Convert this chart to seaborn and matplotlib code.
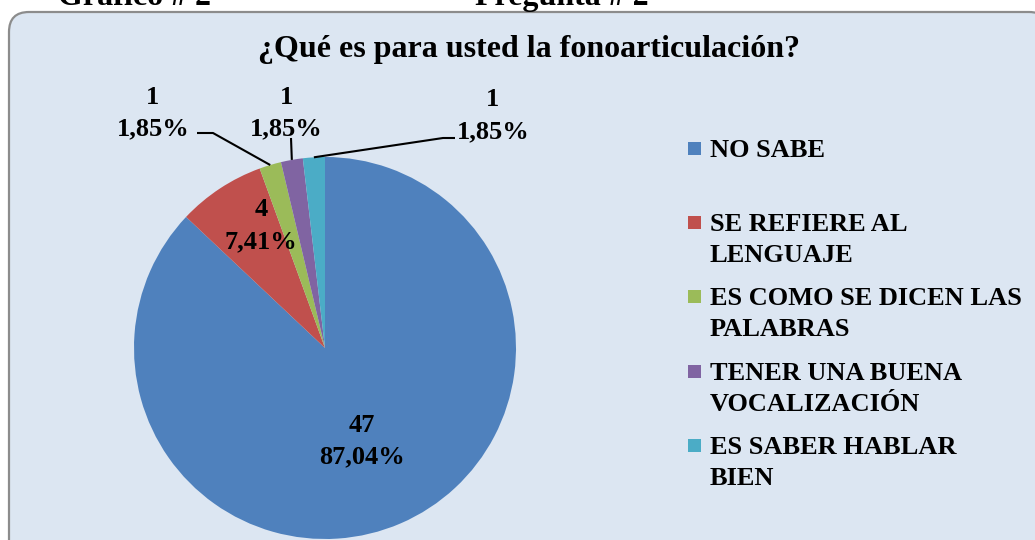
import numpy as np
import matplotlib
matplotlib.use("Agg")
import matplotlib.pyplot as plt
import seaborn as sns
from matplotlib.patches import FancyBboxPatch, Rectangle

categorias = ['NO SABE', 'SE REFIERE AL\nLENGUAJE', 'ES COMO SE DICEN LAS\nPALABRAS',
              'TENER UNA BUENA\nVOCALIZACIÓN', 'ES SABER HABLAR\nBIEN']
frecuencias = [47, 4, 1, 1, 1]
porcentajes = ['87,04%', '7,41%', '1,85%', '1,85%', '1,85%']
colores = ['#4F81BD', '#C0504D', '#9BBB59', '#8064A2', '#4BACC6']

sns.set_theme(style='white')
plt.rcParams['font.family'] = ['Liberation Serif', 'DejaVu Serif']
plt.rcParams['font.weight'] = 'bold'
plt.rcParams['text.color'] = 'black'

W, H = 1035, 540
fig = plt.figure(figsize=(W / 100, H / 100), dpi=100)
fig.patch.set_facecolor('white')

# marco redondeado (en pixeles de figura)
marco = FancyBboxPatch((9, -40), 1040, H - 12 + 40, boxstyle='round,pad=0,rounding_size=20',
                       transform=None, facecolor='#DCE6F2', edgecolor='#8C8C8C', linewidth=1.6,
                       zorder=-10)
fig.patches.append(marco)

fig.text(135 / W, (H - 5) / H, 'Gráfico # 2', ha='center', va='baseline', fontsize=23, fontweight='bold')
fig.text(562 / W, (H - 5) / H, 'Pregunta # 2', ha='center', va='baseline', fontsize=23, fontweight='bold')
fig.text(529 / W, (H - 50) / H, '¿Qué es para usted la fonoarticulación?', ha='center', va='center',
         fontsize=23, fontweight='bold')

# ejes en unidades de radio: centro (325, 348) px, radio 191 px
cx, cy, r = 325, 348, 191
ax = fig.add_axes([0, 0, 1, 1])
wedges, _ = ax.pie(frecuencias, colors=colores, startangle=90, counterclock=False, radius=1,
                   wedgeprops=dict(linewidth=0))
ax.set_aspect('auto')
ax.set_xlim(-cx / r, (W - cx) / r)
ax.set_ylim(-(H - cy) / r, cy / r)
ax.axis('off')

fs = 19
ls = 1.5
# etiquetas internas
ax.text((362 - cx) / r, (cy - 441) / r, f'{frecuencias[0]}\n{porcentajes[0]}', ha='center', va='center',
        fontsize=fs, fontweight='bold', linespacing=ls)
ax.text((261 - cx) / r, (cy - 226) / r, f'{frecuencias[1]}\n{porcentajes[1]}', ha='center', va='center',
        fontsize=fs, fontweight='bold', linespacing=ls)

# etiquetas externas con lineas guia
externas = [
    # (indice, centro texto px, puntos intermedios px)
    (2, (153, 113), [(213, 133), (197, 133)]),
    (3, (286, 113), [(291, 138)]),
    (4, (493, 116), [(443, 138), (455, 138)]),
]
for i, (tx, ty), pts in externas:
    w = wedges[i]
    ang = np.deg2rad((w.theta1 + w.theta2) / 2)
    x0, y0 = np.cos(ang), np.sin(ang)
    xs = [x0] + [(px - cx) / r for px, py in pts]
    ys = [y0] + [(cy - py) / r for px, py in pts]
    ax.plot(xs, ys, color='black', linewidth=1.5, solid_capstyle='butt')
    ax.text((tx - cx) / r, (cy - ty) / r, f'{frecuencias[i]}\n{porcentajes[i]}', ha='center', va='center',
            fontsize=fs, fontweight='bold', linespacing=ls)

# leyenda
ley_y = [148, 222, 296, 371, 445]
for lab, col, yy in zip(categorias, colores, ley_y):
    fig.patches.append(Rectangle((688, H - yy - 6.5), 13, 13, transform=None, facecolor=col, edgecolor='none'))
    fig.text(710 / W, (H - yy + 9) / H, lab, ha='left', va='top', fontsize=fs, fontweight='bold',
             linespacing=1.44)

fig.savefig('out.png', dpi=100, facecolor='white')
